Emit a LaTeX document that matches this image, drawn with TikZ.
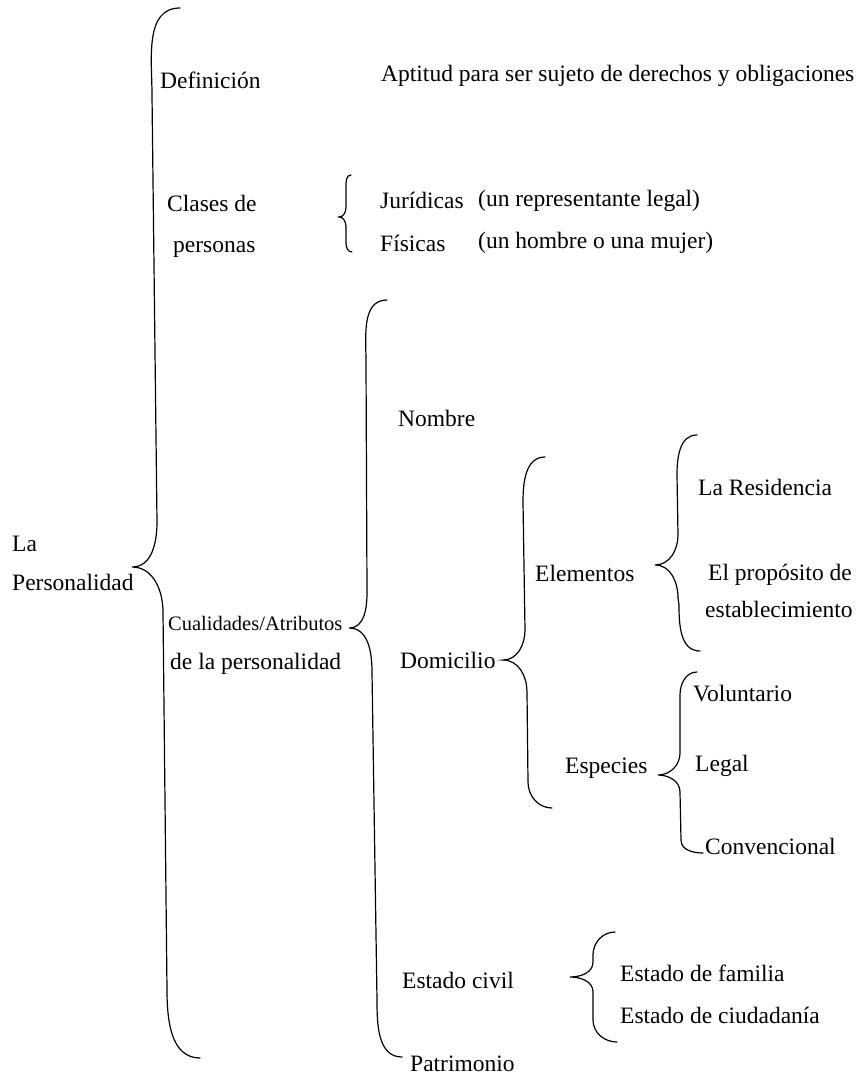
\documentclass[tikz,border=0pt]{standalone}
\usepackage{fontspec}
\setmainfont{Liberation Serif}
% llave: punta de arriba, lomo, pico, lomo, punta de abajo
\newcommand{\llave}[7]{\draw[llave] (#1) to[out=180,in=90] (#2) -- (#3)
  to[out=-90,in=0] (#4) to[out=0,in=90] (#5) -- (#6) to[out=-90,in=180] (#7);}
\tikzset{
  texto/.style={anchor=base west, inner sep=0pt, font=\fontsize{23.5}{28}\selectfont},
  llave/.style={line width=1.2pt, line cap=round},
}
\begin{document}
\begin{tikzpicture}[x=1pt,y=-1pt]
	\useasboundingbox (0,0) rectangle (860,1074);

	% raiz
	\node[texto] (la) at (12,551) {La};
	\node[texto] (personalidad) at (12,590) {Personalidad};
	\llave{180,8}{152,95}{157,522}{132,567}{163,612}{167,990}{200,1058}

	% definicion y clases
	\node[texto] (definicion) at (160,88) {Definición};
	\node[texto] (aptitud) at (381,81) {Aptitud para ser sujeto de derechos y obligaciones};
	\node[texto] (clases) at (167,211) {Clases de};
	\node[texto] (personas) at (173,252) {personas};
	\llave{351,175}{346,188}{346,207}{339,217}{346,227}{346,243}{352,252}
	\node[texto] (juridicas) at (380,208) {Jurídicas};
	\node[texto] (representante) at (478,206) {(un representante legal)};
	\node[texto] (fisicas) at (380,251) {Físicas};
	\node[texto] (hombre) at (478,248) {(un hombre o una mujer)};

	% cualidades
	\node[texto, font=\fontsize{20.5}{24}\selectfont] (cualidades) at (168,630) {Cualidades/Atributos};
	\node[texto] (dela) at (170,669) {de la personalidad};
	\llave{387,300}{366,362}{367,592}{349,628}{372,672}{377,1000}{402,1057}
	\node[texto] (nombre) at (398,426) {Nombre};
	\node[texto] (domicilio) at (400,668) {Domicilio};
	\node[texto] (estadocivil) at (402,988) {Estado civil};
	\node[texto] (patrimonio) at (410,1071) {Patrimonio};

	% domicilio
	\llave{545,457}{523,502}{525,630}{503,660}{527,692}{528,782}{552,808}
	\node[texto] (elementos) at (535,581) {Elementos};
	\node[texto] (especies) at (565,773) {Especies};
	\llave{697,435}{677,475}{678,535}{655,565}{678,598}{679,605}{700,651}
	\node[texto] (residencia) at (698,495) {La Residencia};
	\node[texto] (proposito) at (708,580) {El propósito de};
	\node[texto] (establecimiento) at (705,617) {establecimiento};
	\llave{697,672}{680,695}{680,753}{658,775}{680,792}{681,840}{703,853}
	\node[texto] (voluntario) at (693,701) {Voluntario};
	\node[texto] (legal) at (695,771) {Legal};
	\node[texto] (convencional) at (705,854) {Convencional};

	% estado civil
	\llave{615,932}{593,955}{593,962}{570,977}{593,992}{593,1020}{617,1042}
	\node[texto] (familia) at (620,981) {Estado de familia};
	\node[texto] (ciudadania) at (620,1023) {Estado de ciudadanía};
\end{tikzpicture}
\end{document}
